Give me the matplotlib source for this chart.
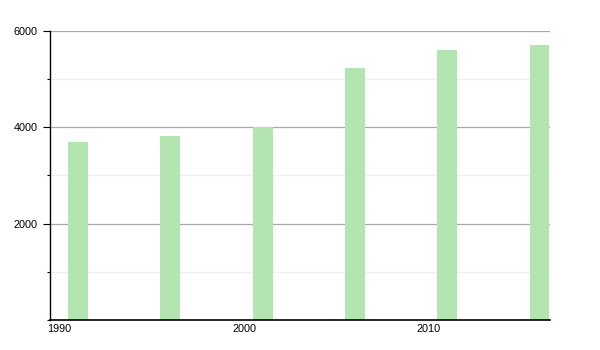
import matplotlib
matplotlib.use("Agg")
import matplotlib.pyplot as plt
from matplotlib.ticker import MultipleLocator

years = [1991, 1996, 2001, 2006, 2011, 2016]
population = [3690, 3820, 4005, 5225, 5610, 5700]
x_ticks = [1990, 2000, 2010]
y_ticks = [2000, 4000, 6000]

plt.rcParams['font.family'] = ['Liberation Sans', 'DejaVu Sans']

fig = plt.figure(figsize=(6, 3.5), dpi=100)
ax = fig.add_axes([50/600, 1-320/350, 500/600, (320-30.7)/350])

ax.bar(years, population, width=1.08, color='#b2e5b0', zorder=3)

ax.set_xlim(1989.48, 2016.57)
ax.set_ylim(0, 6000)
ax.set_xticks(x_ticks)
ax.set_xticklabels([str(t) for t in x_ticks])
ax.set_yticks(y_ticks)
ax.set_yticklabels([str(t) for t in y_ticks])
ax.yaxis.set_minor_locator(MultipleLocator(1000))

ax.grid(axis='y', which='major', color='#a8a8a8', linewidth=0.9, zorder=1)
ax.grid(axis='y', which='minor', color='#eeeeee', linewidth=0.9, zorder=1)

for s in ['top', 'right']:
    ax.spines[s].set_visible(False)
ax.spines['left'].set_linewidth(1.0)
ax.spines['bottom'].set_linewidth(1.2)
ax.spines['left'].set_zorder(4)
ax.spines['bottom'].set_zorder(4)

ax.tick_params(axis='y', which='major', length=5, width=0.8, labelsize=7.8, pad=4)
ax.tick_params(axis='y', which='minor', length=2, width=0.8)
ax.tick_params(axis='x', which='major', length=0, labelsize=7.8, pad=3)

fig.savefig('out.png', dpi=100)
